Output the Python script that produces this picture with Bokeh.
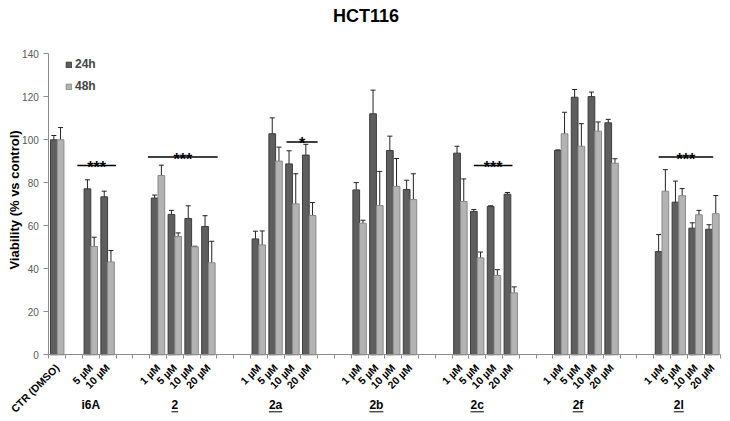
import math
from bokeh.plotting import figure
from bokeh.models import (ColumnDataSource, Range1d, FixedTicker, LinearAxis,
                          Whisker, TeeHead, Legend, LegendItem)
from bokeh.core.properties import value
from bokeh.embed import file_html
from bokeh.resources import INLINE

# ---------------- data ----------------
title_text = "HCT116"
y_label = "Viability (% vs control)"
series_names = ["24h", "48h"]

groups = ["CTR", "i6A", "2", "2a", "2b", "2c", "2f", "2l"]
group_labels = ["", "i6A", "2", "2a", "2b", "2c", "2f", "2l"]
group_underlined = [False, False, True, True, True, True, True, True]
doses4 = ["1 µM", "5 µM", "10 µM", "20 µM"]
group_doses = [["CTR (DMSO)"], ["5 µM", "10 µM"],
               doses4, doses4, doses4, doses4, doses4, doses4]

mean_24h = [100.0, 77.2, 73.5,
            72.9, 65.3, 63.4, 59.7,
            53.9, 102.8, 88.8, 92.9,
            76.7, 112.1, 95.0, 76.9,
            93.8, 66.7, 69.0, 74.7,
            95.0, 119.8, 120.1, 107.9,
            48.0, 71.0, 58.9, 58.4]
err_24h = [2.0, 4.2, 2.6,
           1.4, 1.9, 5.9, 5.0,
           3.6, 7.4, 6.1, 5.0,
           3.4, 11.0, 6.7, 4.3,
           3.2, 0.9, 0.3, 0.8,
           0.3, 3.6, 2.1, 1.6,
           7.9, 9.8, 2.5, 2.1]
mean_48h = [100.0, 50.4, 43.2,
            83.4, 55.0, 50.2, 42.8,
            51.1, 90.1, 70.2, 64.8,
            61.2, 69.4, 78.3, 72.2,
            71.3, 45.1, 36.9, 28.8,
            102.8, 97.0, 104.0, 89.1,
            76.1, 74.0, 65.1, 65.6]
err_48h = [5.7, 4.3, 5.3,
           4.8, 1.7, 0.3, 10.0,
           6.5, 6.5, 14.0, 6.0,
           1.4, 15.9, 13.0, 12.0,
           10.5, 2.7, 2.7, 2.8,
           10.0, 10.5, 4.3, 2.1,
           10.0, 3.3, 2.1, 8.5]

# significance bars (slot coordinates, value level, marks)
sig_start = [1.7, 5.9, 14.15, 25.3, 36.3]
sig_end = [4.0, 10.05, 16.0, 27.6, 39.55]
sig_level = [88, 92, 99, 88, 92]
sig_marks = ["***", "***", "*", "***", "***"]

y_ticks = [0, 20, 40, 60, 80, 100, 120, 140]
y_max = 140

# ---------------- layout ----------------
W, H = 726, 419
AXIS_X_PX = 48.3     # canvas x of the value axis
AXIS_END_PX = 720.3  # canvas x of the category axis end
AXIS_TOP_PX = 53.3   # canvas y of value 140
AXIS_ZERO_PX = 354.3 # canvas y of value 0

slot_centers, dose_labels, group_first, group_len = [], [], [], []
pos = 0
for g, doses in zip(groups, group_doses):
    group_first.append(pos)
    group_len.append(len(doses))
    for d in doses:
        slot_centers.append(pos + 0.5)
        dose_labels.append(d)
        pos += 1
    pos += 1 if g == "CTR" else 2
n_slots = pos - 2

slot_px = (AXIS_END_PX - AXIS_X_PX) / n_slots
x_start = -AXIS_X_PX / slot_px
x_end = (W - AXIS_X_PX) / slot_px
PPU = (AXIS_ZERO_PX - AXIS_TOP_PX) / y_max
y_top = y_max + AXIS_TOP_PX / PPU
y_bottom = -(H - AXIS_ZERO_PX) / PPU

x24 = [c - 0.2 for c in slot_centers]
x48 = [c + 0.2 for c in slot_centers]

src24 = ColumnDataSource(dict(x=x24, top=mean_24h,
                              up=[m + e for m, e in zip(mean_24h, err_24h)],
                              lo=[m - e for m, e in zip(mean_24h, err_24h)]))
src48 = ColumnDataSource(dict(x=x48, top=mean_48h,
                              up=[m + e for m, e in zip(mean_48h, err_48h)],
                              lo=[m - e for m, e in zip(mean_48h, err_48h)]))

FONT = "Liberation Sans"
AX = "#8c8c8c"

p = figure(width=W, height=H, output_backend="svg", toolbar_location=None,
           x_range=Range1d(x_start, x_end), y_range=Range1d(y_bottom, y_top),
           x_axis_type=None, y_axis_type=None,
           min_border_left=0, min_border_right=0, min_border_top=0,
           min_border_bottom=0)
p.outline_line_color = None
p.background_fill_color = "white"
p.border_fill_color = "white"

r24 = p.vbar(x="x", top="top", bottom=0, width=0.4, source=src24,
             fill_color="#5e5e5e", line_color="#3c3c3c", line_width=1)
r48 = p.vbar(x="x", top="top", bottom=0, width=0.4, source=src48,
             fill_color="#b3b3b3", line_color="#8a8a8a", line_width=1)

for src in (src24, src48):
    w = Whisker(base="x", upper="up", lower="lo", source=src,
                line_color="#222222", line_width=1,
                upper_head=TeeHead(size=5, line_color="#222222", line_width=1),
                lower_head=TeeHead(size=5, line_color="#222222", line_width=1))
    p.add_layout(w)

# y axis (value axis at x = 0)
yaxis = LinearAxis(ticker=FixedTicker(ticks=y_ticks), bounds=(0, y_max),
                   fixed_location=0,
                   major_label_text_font=FONT, major_label_text_font_size="10px",
                   major_label_text_color="#595959", major_label_standoff=5,
                   axis_line_color=AX, major_tick_line_color=AX,
                   major_tick_in=0, major_tick_out=5, minor_tick_line_color=None)
p.add_layout(yaxis, "left")

# y axis title (rotated, centred on the 0-140 span)
p.text(x=[(14 - AXIS_X_PX) / slot_px], y=[y_max / 2 + 2], text=[y_label],
       angle=math.pi / 2, text_align="center", text_baseline="middle",
       text_font=value(FONT), text_font_size="13px", text_font_style="bold",
       text_color="black")

# x axis: ticks at slot boundaries
boundaries = list(range(0, n_slots + 1))
xaxis = LinearAxis(ticker=FixedTicker(ticks=boundaries), fixed_location=0,
                   bounds=(0, n_slots),
                   major_label_text_color=None, major_label_text_font_size="1px",
                   major_tick_line_color=AX, major_tick_in=0, major_tick_out=4,
                   minor_tick_line_color=None, axis_line_color=AX)
p.add_layout(xaxis, "below")

# dose labels, rotated 45 degrees, ending under each slot centre
p.text(x=slot_centers, y=[-11.0 / PPU] * len(slot_centers), text=dose_labels,
       angle=math.pi / 4, text_align="right", text_baseline="middle",
       text_font=value(FONT), text_font_size="10.5px", text_font_style="bold",
       text_color="black")

# title (centred on the chart)
p.text(x=[x_start + 365.5 / slot_px], y=[y_top - 15.5 / PPU], text=[title_text],
       text_align="center", text_baseline="middle", text_font=value(FONT),
       text_font_size="18px", text_font_style="bold", text_color="black")

# group labels with underline
char_w = {"i": 0.278, "6": 0.556, "A": 0.722, "2": 0.556, "a": 0.556,
          "b": 0.611, "c": 0.556, "f": 0.333, "l": 0.278}
GL_SIZE = 12
lab_x, lab_t, ul_x0, ul_x1 = [], [], [], []
for first, n, lab, ul in zip(group_first, group_len, group_labels, group_underlined):
    if not lab:
        continue
    cx = first + n / 2 - 0.5
    lab_x.append(cx)
    lab_t.append(lab)
    if ul:
        half = sum(char_w.get(ch, 0.556) for ch in lab) * GL_SIZE / 2 / slot_px
        ul_x0.append(cx - half)
        ul_x1.append(cx + half)

lab_y = -50.0 / PPU
ul_y = -57.0 / PPU
p.text(x=lab_x, y=[lab_y] * len(lab_x), text=lab_t, text_align="center",
       text_baseline="middle", text_font=value(FONT),
       text_font_size=f"{GL_SIZE}px", text_font_style="bold", text_color="black")
p.segment(x0=ul_x0, x1=ul_x1, y0=[ul_y] * len(ul_x0), y1=[ul_y] * len(ul_x0),
          line_color="black", line_width=1)

# significance lines and stars
p.segment(x0=sig_start, x1=sig_end, y0=sig_level, y1=sig_level,
          line_color="black", line_width=1.5)
p.text(x=[(a + b) / 2 for a, b in zip(sig_start, sig_end)],
       y=[lv - 2.0 / PPU for lv in sig_level], text=sig_marks,
       text_align="center", text_baseline="alphabetic", text_font=value(FONT),
       text_font_size="16px", text_font_style="bold", text_color="black")

legend = Legend(items=[LegendItem(label=series_names[0], renderers=[r24]),
                       LegendItem(label=series_names[1], renderers=[r48])],
                location=(65, H - 93.3), orientation="vertical",
                glyph_width=7, glyph_height=7, label_height=12,
                label_standoff=3, spacing=8, padding=0, margin=0,
                border_line_color=None, background_fill_alpha=0,
                label_text_font=FONT, label_text_font_size="12px",
                label_text_font_style="bold")
p.add_layout(legend)

open("out.html", "w").write(file_html(p, INLINE))
